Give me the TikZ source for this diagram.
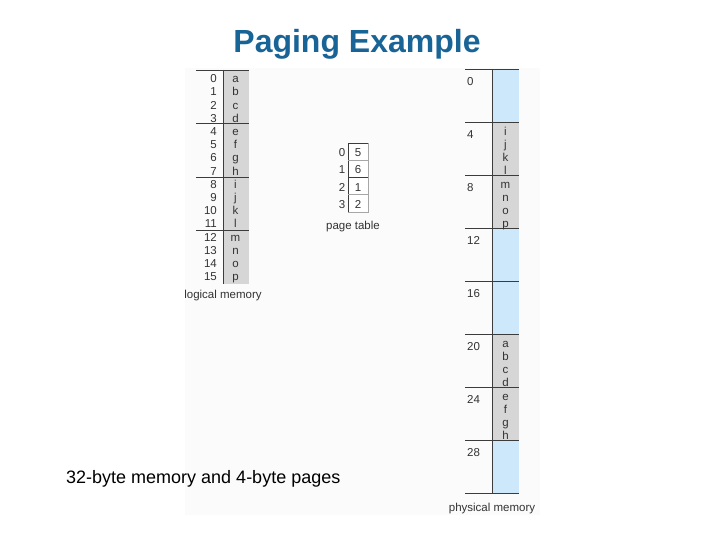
\documentclass[tikz,border=0pt]{standalone}
\usepackage{fontspec}
\setmainfont{Liberation Sans}
\definecolor{titleblue}{RGB}{25,100,150}
\definecolor{memgray}{RGB}{214,214,214}
\definecolor{memblue}{RGB}{204,232,250}
\definecolor{linegray}{RGB}{60,60,60}
\begin{document}
\begin{tikzpicture}[x=1pt,y=-1pt,
  lab/.style={font=\fontsize{11.5}{13}\selectfont, text=black!80, inner sep=0pt, text height=8.3pt, text depth=0pt},
  rule/.style={draw=linegray, line width=0.6pt},
  softrule/.style={draw=gray!70, line width=0.5pt}]
\useasboundingbox (0,0) rectangle (720,540);
% faint figure background
\fill[gray!3] (185,68) rectangle (540,515);
% title and caption
\node[font=\bfseries\fontsize{32}{36}\selectfont, text=titleblue] (title) at (357,44) {Paging Example};
\node[font=\fontsize{18}{21}\selectfont, anchor=west, inner sep=0pt] (caption) at (66,479) {32-byte memory and 4-byte pages};

% logical memory
\fill[memgray] (223,70) rectangle (249,284);
\draw[rule] (223,70) -- (223,284);
\foreach \k in {0,1,2,3} {
  \draw[rule] (196,{70+53.5*\k}) -- (249,{70+53.5*\k});
}
\foreach \n/\c in {0/a,1/b,2/c,3/d,4/e,5/f,6/g,7/h,8/i,9/j,10/k,11/l,12/m,13/n,14/o,15/p} {
  \node[lab, anchor=east] (ln\n) at (217,{78.5+13.2*\n}) {\n};
  \node[lab] (lc\n) at (235.5,{78.5+13.2*\n}) {\c};
}
\node[lab] (lmlabel) at (223,294) {logical memory};

% page table
\fill[white] (348,143) rectangle (368,212);
\draw[softrule] (348,143) rectangle (368,212);
\draw[rule] (348,143) -- (348,212);
\foreach \k in {1,2,3} {
  \draw[softrule] (348,{143+17.25*\k}) -- (368,{143+17.25*\k});
}
\draw[rule] (348,143) -- (368,143);
\draw[rule] (348,177.5) -- (368,177.5);
\foreach \i/\v in {0/5,1/6,2/1,3/2} {
  \node[lab] (pti\i) at (342,{152.3+17.35*\i}) {\i};
  \node[lab] (ptv\i) at (358,{152.3+17.35*\i}) {\v};
}
\node[lab] (ptlabel) at (353,225) {page table};

% physical memory
\foreach \f/\col in {0/memblue,1/memgray,2/memgray,3/memblue,4/memblue,5/memgray,6/memgray,7/memblue} {
  \fill[\col] (492,{69+53*\f}) rectangle (519,{69+53*(\f+1)});
}
\draw[rule] (492,69) -- (492,493);
\foreach \f in {0,...,8} {
  \draw[rule] (465,{69+53*\f}) -- (519,{69+53*\f});
}
\foreach \f/\a in {0/0,1/4,2/8,3/12,4/16,5/20,6/24,7/28} {
  \node[lab, anchor=west] (pa\f) at (467,{81.5+53*\f}) {\a};
}
\foreach \f/\letters in {1/{i,j,k,l},2/{m,n,o,p},5/{a,b,c,d},6/{e,f,g,h}} {
  \foreach \c [count=\j from 0] in \letters {
    \node[lab] (pc\f\c) at (505.5,{78+53*\f+13.2*\j}) {\c};
  }
}
\node[lab] (pmlabel) at (492,507) {physical memory};
\end{tikzpicture}
\end{document}
